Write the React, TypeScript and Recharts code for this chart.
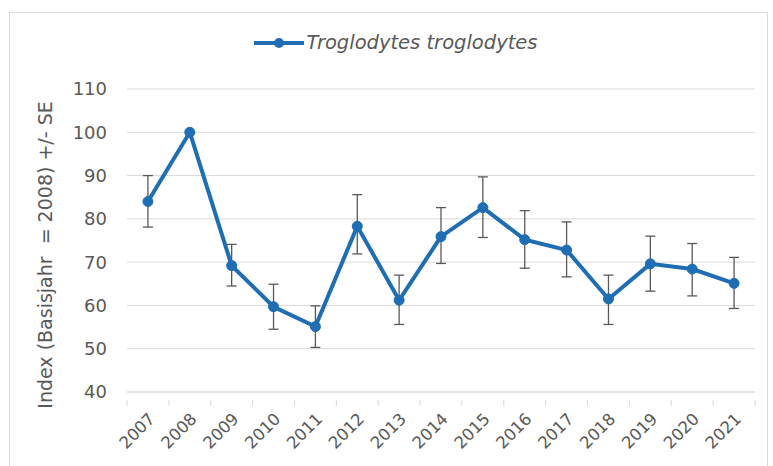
import React from 'react';
import { LineChart, Line, XAxis, YAxis, CartesianGrid, ErrorBar, Legend } from 'recharts';

const years = ['2007', '2008', '2009', '2010', '2011', '2012', '2013', '2014', '2015', '2016', '2017', '2018', '2019', '2020', '2021'];
const indexValues = [84, 100, 69.2, 59.7, 55.1, 78.3, 61.2, 75.9, 82.6, 75.2, 72.8, 61.5, 69.6, 68.4, 65.1];
const seUpper = [90, null, 74.1, 64.9, 59.9, 85.6, 67, 82.6, 89.7, 81.9, 79.3, 67, 76, 74.3, 71.1];
const seLower = [78.1, null, 64.5, 54.5, 50.3, 71.9, 55.6, 69.7, 75.7, 68.6, 66.6, 55.6, 63.3, 62.2, 59.3];
const yTicks = [40, 50, 60, 70, 80, 90, 100, 110];

const SERIES = 'Troglodytes troglodytes';
const BLUE = '#1F6EB3';
const GREY = '#595959';
const GRID = '#d9d9d9';
const FONT = '"DejaVu Sans", Verdana, sans-serif';

const data = years.map((year, i) => ({
  year,
  value: indexValues[i],
  se: seUpper[i] == null || seLower[i] == null
    ? null
    : [indexValues[i] - (seLower[i] as number), (seUpper[i] as number) - indexValues[i]],
}));

// plot spans 127..755 px, 15 bands
const BAND = (755 - 127) / years.length;

const YearTick = (props: any) => {
  const { x, y, payload, index } = props;
  const tx = x + 8;
  const ty = y + 20;
  return (
    <g>
      <line x1={x - BAND / 2} y1={y} x2={x - BAND / 2} y2={y + 6} stroke={GRID} />
      {index === years.length - 1 && (
        <line x1={x + BAND / 2} y1={y} x2={x + BAND / 2} y2={y + 6} stroke={GRID} />
      )}
      <text
        x={tx}
        y={ty}
        transform={`rotate(-45, ${tx}, ${ty})`}
        textAnchor="end"
        fill={GREY}
        fontSize={16.5}
        fontFamily={FONT}
      >
        {payload.value}
      </text>
    </g>
  );
};

const LegendContent = () => (
  <div style={{ display: 'flex', justifyContent: 'center', alignItems: 'center', paddingLeft: 18, height: 22 }}>
    <svg width={52} height={14}>
      <line x1={1} y1={7} x2={51} y2={7} stroke={BLUE} strokeWidth={4} />
      <circle cx={26} cy={7} r={5} fill={BLUE} />
    </svg>
    <span style={{ fontFamily: FONT, fontStyle: 'italic', fontSize: 19.5, color: GREY, marginLeft: 1, lineHeight: '22px' }}>
      {SERIES}
    </span>
  </div>
);

export default function App() {
  return (
    <div style={{ position: 'absolute', left: 0, top: 0, width: 773, height: 466, background: '#fff' }}>
      <div
        style={{
          position: 'absolute',
          left: 9,
          top: 12,
          width: 759,
          height: 470,
          border: '1px solid #d9d9d9',
          boxSizing: 'border-box',
        }}
      />
      <LineChart
        width={773}
        height={466}
        data={data}
        margin={{ top: 67, right: 18, bottom: 0, left: 67 }}
      >
        <CartesianGrid vertical={false} stroke={GRID} strokeWidth={1} />
        <XAxis
          dataKey="year"
          height={74}
          axisLine={{ stroke: GRID }}
          tickLine={false}
          interval={0}
          padding={{ left: BAND / 2, right: BAND / 2 }}
          tick={<YearTick />}
        />
        <YAxis
          width={60}
          domain={[40, 110]}
          ticks={yTicks}
          axisLine={false}
          tickLine={false}
          tickSize={0}
          tickMargin={20}
          tick={{ fill: GREY, fontSize: 18, fontFamily: FONT }}
          label={{
            content: () => (
              <text
                x={52}
                y={255}
                transform="rotate(-90, 52, 255)"
                textAnchor="middle"
                fill={GREY}
                fontSize={19}
                fontFamily={FONT}
                style={{ whiteSpace: 'pre' }}
              >
                Index (Basisjahr  = 2008) +/- SE
              </text>
            ),
          }}
        />
        <Legend
          verticalAlign="top"
          wrapperStyle={{ top: 32, left: 0, width: 773 }}
          content={<LegendContent />}
        />
        <Line
          type="linear"
          dataKey="value"
          name={SERIES}
          stroke={BLUE}
          strokeWidth={4}
          dot={{ r: 5, fill: BLUE, stroke: BLUE, strokeWidth: 1 }}
          activeDot={false}
          isAnimationActive={false}
        >
          <ErrorBar dataKey="se" direction="y" width={5} stroke={GREY} strokeWidth={1.3} />
        </Line>
      </LineChart>
    </div>
  );
}
